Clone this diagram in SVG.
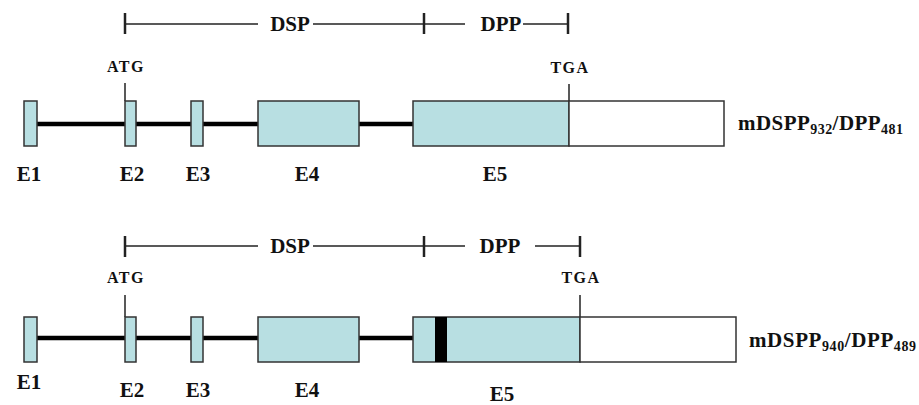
<svg xmlns="http://www.w3.org/2000/svg" width="919" height="405" viewBox="0 0 919 405">
<style>
.ex{fill:#b8dfe2;stroke:#333;stroke-width:1.5}
.utr{fill:#fff;stroke:#333;stroke-width:1.5}
.intron{stroke:#000;stroke-width:4.5}
.br{stroke:#222;stroke-width:1.3;fill:none}
.tk{stroke:#222;stroke-width:2.5}
.mk{stroke:#222;stroke-width:1.5}
text{font-family:"Liberation Serif","Times New Roman",serif;font-weight:bold;fill:#111}
.lb{font-size:21px;text-anchor:middle}
.sm{font-size:16px;text-anchor:middle;letter-spacing:1.5px}
.nm{font-size:21px}
</style>
<rect width="919" height="405" fill="#fff"/>
<g id="connectors">
<line class="intron" x1="37" y1="124" x2="413" y2="124"/>
<line class="intron" x1="37" y1="338" x2="413" y2="338"/>
<line class="mk" x1="125" y1="83" x2="125" y2="101"/>
<line class="mk" x1="569" y1="84" x2="569" y2="101"/>
<line class="mk" x1="125" y1="295" x2="125" y2="317"/>
<line class="mk" x1="580" y1="295" x2="580" y2="317"/>
</g>
<g id="bracket1">
<line class="tk" x1="125" y1="13" x2="125" y2="34"/>
<line class="tk" x1="424" y1="13" x2="424" y2="34"/>
<line class="tk" x1="568" y1="13" x2="568" y2="34"/>
<line class="br" x1="125" y1="24" x2="258" y2="24"/>
<line class="br" x1="313" y1="24" x2="424" y2="24"/>
<line class="br" x1="424" y1="24" x2="465" y2="24"/>
<line class="br" x1="523" y1="24" x2="568" y2="24"/>
<text class="lb" x="290" y="31">DSP</text>
<text class="lb" x="501" y="31">DPP</text>
</g>
<g id="gene1">
<rect class="ex" x="24" y="101" width="13" height="45"/>
<rect class="ex" x="125" y="101" width="11" height="45"/>
<rect class="ex" x="191" y="101" width="12" height="45"/>
<rect class="ex" x="258" y="101" width="101" height="45"/>
<rect class="ex" x="413" y="101" width="156" height="45"/>
<rect class="utr" x="569" y="101" width="155" height="45"/>
<text class="sm" x="126" y="72">ATG</text>
<text class="sm" x="570" y="73">TGA</text>
<text class="lb" x="29" y="181">E1</text>
<text class="lb" x="132" y="181">E2</text>
<text class="lb" x="198" y="181">E3</text>
<text class="lb" x="307" y="181">E4</text>
<text class="lb" x="495" y="181">E5</text>
<text class="nm" x="738" y="130" textLength="165" lengthAdjust="spacing">mDSPP<tspan font-size="14" dy="4">932</tspan><tspan dy="-4">/DPP</tspan><tspan font-size="14" dy="4">481</tspan></text>
</g>
<g id="bracket2">
<line class="tk" x1="125" y1="236" x2="125" y2="257"/>
<line class="tk" x1="424" y1="236" x2="424" y2="257"/>
<line class="tk" x1="580" y1="236" x2="580" y2="257"/>
<line class="br" x1="125" y1="246" x2="258" y2="246"/>
<line class="br" x1="313" y1="246" x2="424" y2="246"/>
<line class="br" x1="424" y1="246" x2="465" y2="246"/>
<line class="br" x1="535" y1="246" x2="580" y2="246"/>
<text class="lb" x="290" y="253">DSP</text>
<text class="lb" x="500" y="253">DPP</text>
</g>
<g id="gene2">
<rect class="ex" x="24" y="317" width="13" height="45"/>
<rect class="ex" x="125" y="317" width="11" height="45"/>
<rect class="ex" x="191" y="317" width="12" height="45"/>
<rect class="ex" x="258" y="317" width="101" height="45"/>
<rect class="ex" x="413" y="317" width="167" height="45"/>
<rect x="435" y="317" width="12" height="45" fill="#000"/>
<rect class="utr" x="580" y="317" width="156" height="45"/>
<text class="sm" x="126" y="283">ATG</text>
<text class="sm" x="581" y="283">TGA</text>
<text class="lb" x="29" y="389">E1</text>
<text class="lb" x="132" y="397">E2</text>
<text class="lb" x="198" y="397">E3</text>
<text class="lb" x="307" y="397">E4</text>
<text class="lb" x="502" y="401">E5</text>
<text class="nm" x="749" y="347" textLength="167" lengthAdjust="spacing">mDSPP<tspan font-size="14" dy="4">940</tspan><tspan dy="-4">/DPP</tspan><tspan font-size="14" dy="4">489</tspan></text>
</g>
</svg>
